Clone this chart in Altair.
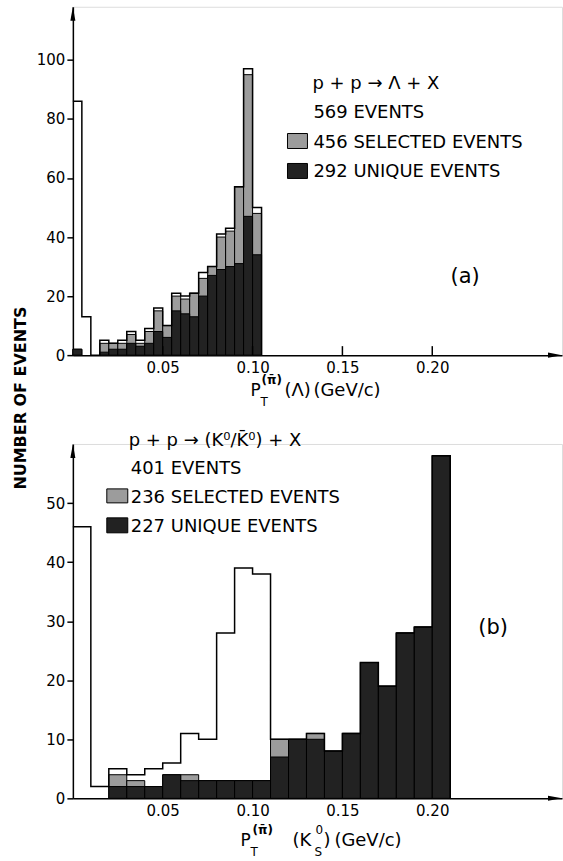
import altair as alt
import pandas as pd

# ---------------- data ----------------
# Panel (a): p + p -> Lambda + X, bins of 0.005 GeV/c starting at 0
a_bin_width = 0.005
a_total = [86, 13, 0, 5, 4, 5, 8, 5, 9, 16, 10, 21, 20, 21, 28, 30, 41, 43, 57, 97, 50]
a_selected = [2, 0, 0, 4, 4, 4, 7, 4, 8, 15, 10, 20, 19, 21, 26, 30, 40, 42, 57, 95, 48]
a_unique = [2, 0, 0, 1, 2, 2, 4, 3, 4, 8, 6, 15, 14, 13, 20, 27, 29, 30, 31, 47, 34]

# Panel (b): p + p -> (K0/K0bar) + X, bins of 0.01 GeV/c starting at 0
b_bin_width = 0.01
b_total = [46, 2, 5, 4, 5, 6, 11, 10, 28, 39, 38, 10, 10, 11, 8, 11, 23, 19, 28, 29, 58]
b_selected = [0, 0, 4, 3, 2, 4, 4, 3, 3, 3, 3, 10, 10, 11, 8, 11, 23, 19, 28, 29, 58]
b_unique = [0, 0, 2, 2, 2, 4, 3, 3, 3, 3, 3, 7, 10, 10, 8, 11, 23, 19, 28, 29, 58]

x_ticks = [0.05, 0.10, 0.15, 0.20]
a_y_ticks = [0, 20, 40, 60, 80, 100]
b_y_ticks = [0, 10, 20, 30, 40, 50]

a_texts = ["p + p \u2192 \u039b + X", "569 EVENTS", "456 SELECTED EVENTS", "292 UNIQUE EVENTS", "(a)"]
b_texts = ["p + p \u2192 (K\u2070/K\u0304\u2070) + X", "401 EVENTS", "236 SELECTED EVENTS", "227 UNIQUE EVENTS", "(b)"]
y_title = "NUMBER OF EVENTS"

# ---------------- styling ----------------
FONT = "DejaVu Sans"
HATCH = "#9c9c9c"
CROSS = "#222222"
W = 490
X_MAX = 0.2722
one = alt.Data(values=[{"k": 0}])


def txt(s, x, y, size=18, align="left", baseline="alphabetic", weight="normal", angle=0):
    return alt.Chart(one).mark_text(
        text=s, align=align, baseline=baseline, fontSize=size, font=FONT,
        fontWeight=weight, angle=angle, color="black"
    ).encode(x=alt.value(x), y=alt.value(y))


def box(x1, x2, y1, y2, fill):
    return alt.Chart(one).mark_rect(fill=fill, stroke="black", strokeWidth=1).encode(
        x=alt.value(x1), x2=alt.value(x2), y=alt.value(y1), y2=alt.value(y2)
    )


def panel(total, selected, unique, bw, ymax, height, yticks, inner_ticks):
    n = len(total)
    df = pd.DataFrame({
        "x0": [i * bw for i in range(n)],
        "x1": [(i + 1) * bw for i in range(n)],
        "total": total, "sel": selected, "uni": unique,
    })
    step = pd.DataFrame({
        "px": [i * bw for i in range(n)] + [n * bw, n * bw],
        "py": list(total) + [total[-1], 0],
        "i": list(range(n + 2)),
    })
    xs = alt.Scale(domain=[0, X_MAX], nice=False, zero=False)
    ys = alt.Scale(domain=[0, ymax], nice=False)
    xaxis = alt.Axis(values=x_ticks, format=".2f", ticks=False, tickSize=0, grid=False,
                     domainColor="black", domainWidth=1.5, labelFont=FONT, labelFontSize=15,
                     labelColor="black", labelPadding=5, title=None, labelFlush=False)
    yaxis = alt.Axis(values=yticks, format="d", grid=False, tickSize=6, tickWidth=1.5,
                     tickColor="black", domainColor="black", domainWidth=1.5,
                     labelFont=FONT, labelFontSize=15, labelColor="black",
                     labelPadding=2, title=None)

    base = alt.Chart(df)
    sel = base.transform_filter("datum.sel > 0").mark_rect(
        fill=HATCH, stroke="black", strokeWidth=1
    ).encode(
        x=alt.X("x0:Q", scale=xs, axis=xaxis), x2="x1:Q",
        y=alt.Y("sel:Q", scale=ys, axis=yaxis), y2=alt.datum(0)
    )
    uni = base.transform_filter("datum.uni > 0").mark_rect(
        fill=CROSS, stroke="black", strokeWidth=1
    ).encode(
        x=alt.X("x0:Q", scale=xs, axis=xaxis), x2="x1:Q",
        y=alt.Y("uni:Q", scale=ys, axis=yaxis), y2=alt.datum(0)
    )
    outline = alt.Chart(step).mark_line(
        interpolate="step-after", color="black", strokeWidth=1.5
    ).encode(
        x=alt.X("px:Q", scale=xs, axis=xaxis),
        y=alt.Y("py:Q", scale=ys, axis=yaxis),
        order="i:Q"
    )
    layers = [sel, uni, outline]
    if inner_ticks:
        tk = alt.Chart(pd.DataFrame({"v": x_ticks})).mark_rule(
            color="black", strokeWidth=1.5
        ).encode(
            x=alt.X("v:Q", scale=xs, axis=xaxis),
            y=alt.value(height), y2=alt.value(height - 9)
        )
        layers.append(tk)
    # axis arrowheads
    up = alt.Chart(one).mark_point(
        shape="M0,-1L0.36,1L-0.36,1Z", size=196, filled=True, fill="black",
        stroke=None, opacity=1
    ).encode(x=alt.value(0), y=alt.value(7))
    right = alt.Chart(one).mark_point(
        shape="M1,0L-1,-0.36L-1,0.36Z", size=196, filled=True, fill="black",
        stroke=None, opacity=1
    ).encode(x=alt.value(W - 7), y=alt.value(height))
    layers += [up, right]
    return layers, height


# ---------------- panel (a) ----------------
la, ha = panel(a_total, a_selected, a_unique, a_bin_width, 118, 349, a_y_ticks, True)
la += [
    txt(a_texts[0], 240, 82),
    txt(a_texts[1], 241, 111),
    box(215, 235, 127, 142, HATCH),
    txt(a_texts[2], 241, 141),
    box(215, 235, 157, 172, CROSS),
    txt(a_texts[3], 241, 171),
    txt(a_texts[4], 393, 271, size=21, align="center", baseline="middle"),
    # x title
    txt("P", 178, 390, size=17),
    txt("T", 188, 400, size=12),
    txt("(\u03c0\u0304)", 189, 378, size=12, weight="bold"),
    txt("(\u039b)", 212, 390, size=18),
    txt("(GeV/c)", 241, 390, size=18),
    # shared y title
    txt(y_title, -52, 392, size=16, align="center", baseline="middle", weight="bold", angle=270),
    # invisible anchor fixing the top-left corner of the picture
    alt.Chart(one).mark_rule(color="white", strokeWidth=0.2).encode(
        x=alt.value(-72), y=alt.value(-5), y2=alt.value(-4.8)),
]
pa = alt.layer(*la).properties(width=W, height=ha)

# ---------------- panel (b) ----------------
lb, hb = panel(b_total, b_selected, b_unique, b_bin_width, 60, 355, b_y_ticks, False)
lb += [
    txt(b_texts[0], 56, 2),
    txt(b_texts[1], 58, 30),
    box(34, 55, 45, 59, HATCH),
    txt(b_texts[2], 58, 59),
    box(34, 55, 74, 89, CROSS),
    txt(b_texts[3], 58, 88),
    txt(b_texts[4], 421, 184, size=21, align="center", baseline="middle"),
    # x title
    txt("P", 168, 403, size=17),
    txt("T", 178, 413, size=12),
    txt("(\u03c0\u0304)", 180, 391, size=12, weight="bold"),
    txt("(K", 220, 403, size=18),
    txt("S", 242, 413, size=12),
    txt("0", 243, 391, size=12),
    txt(")", 251, 403, size=18),
    txt("(GeV/c)", 262, 403, size=18),
]
pb = alt.layer(*lb).properties(width=W, height=hb)

chart = alt.vconcat(pa, pb, spacing=89, bounds="flush").properties(
    padding=0
).configure_view(stroke=None).configure(background="white")

chart.save("out.html", embed_options={"renderer": "svg", "actions": False})
